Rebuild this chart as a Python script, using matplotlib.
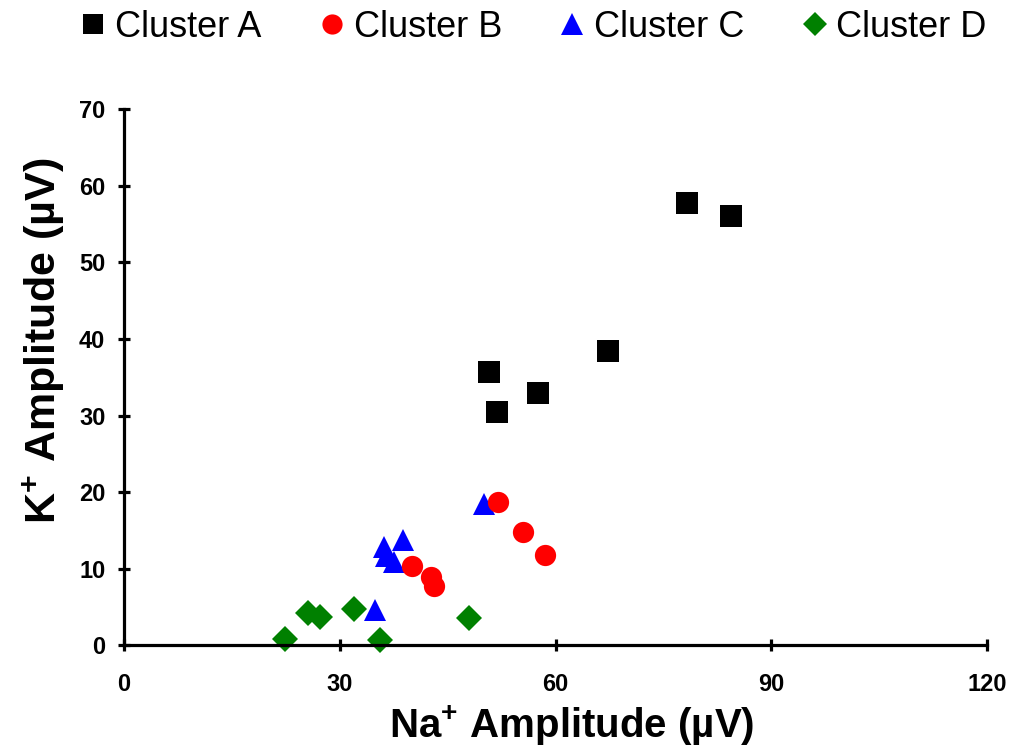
import matplotlib
matplotlib.use("Agg")
import matplotlib.pyplot as plt
from matplotlib.lines import Line2D

# Cluster membership: (Na+ amplitude, K+ amplitude) in µV
cluster_a_na = [78.3, 84.4, 67.3, 50.8, 57.5, 51.8]
cluster_a_k = [57.7, 56.1, 38.4, 35.7, 32.9, 30.5]

cluster_b_na = [52.0, 55.5, 58.5, 40.1, 42.7, 43.1]
cluster_b_k = [18.7, 14.8, 11.8, 10.4, 9.0, 7.7]

cluster_c_na = [50.0, 38.8, 36.2, 36.4, 37.5, 34.9]
cluster_c_k = [18.5, 13.8, 12.8, 11.7, 10.9, 4.6]

cluster_d_na = [22.4, 25.6, 27.2, 32.0, 35.6, 47.9]
cluster_d_k = [0.9, 4.3, 3.7, 4.7, 0.7, 3.6]

labels = ["Cluster A", "Cluster B", "Cluster C", "Cluster D"]
x_ticks = [0, 30, 60, 90, 120]
y_ticks = [0, 10, 20, 30, 40, 50, 60, 70]

plt.rcParams["font.family"] = ["Liberation Sans", "DejaVu Sans"]
plt.rcParams["mathtext.fontset"] = "custom"
plt.rcParams["mathtext.rm"] = "Liberation Sans"
plt.rcParams["mathtext.bf"] = "Liberation Sans:bold"

fig = plt.figure(figsize=(10.11, 7.53), dpi=100)
ax = fig.add_axes([0.1227, 0.1428, 0.8536, 0.7124])

styles = [
    ("s", "black", 15.3),
    ("o", "red", 15.3),
    ("^", "blue", 16.0),
    ("D", "green", 13.2),
]
series = [
    (cluster_a_na, cluster_a_k),
    (cluster_b_na, cluster_b_k),
    (cluster_c_na, cluster_c_k),
    (cluster_d_na, cluster_d_k),
]
# draw in reverse so the earlier clusters sit on top where they overlap
for (xs, ys), (m, c, ms) in reversed(list(zip(series, styles))):
    ax.plot(xs, ys, linestyle="none", marker=m, color=c, markersize=ms,
            markeredgewidth=0, clip_on=False)

ax.set_xlim(0, 120)
ax.set_ylim(0, 70)
ax.set_xticks(x_ticks)
ax.set_yticks(y_ticks)

for side in ("top", "right"):
    ax.spines[side].set_visible(False)
for side in ("left", "bottom"):
    ax.spines[side].set_linewidth(2.3)

ax.tick_params(axis="both", direction="inout", length=9, width=2.3,
               labelsize=17)
ax.tick_params(axis="x", pad=15)
ax.tick_params(axis="y", pad=9)
for lbl in ax.get_xticklabels() + ax.get_yticklabels():
    lbl.set_fontweight("bold")

ax.set_xlabel(r"Na$^{\mathbf{+}}$ Amplitude (µV)", fontsize=29,
              fontweight="bold")
ax.xaxis.set_label_coords(0.519, -0.108)
ax.set_ylabel(r"K$^{\mathbf{+}}$ Amplitude (µV)", fontsize=31,
              fontweight="bold")
ax.yaxis.set_label_coords(-0.066, 0.568)

handles = [
    Line2D([], [], linestyle="none", marker=m, color=c,
           markersize=(ms * 0.95), markeredgewidth=0)
    for (m, c, ms) in styles
]
fig.legend(handles, labels, loc="upper center", bbox_to_anchor=(0.528, 1.03),
           ncol=4, frameon=False, fontsize=26, handlelength=0.7,
           handletextpad=0.25, columnspacing=1.6)

fig.savefig("out.png", dpi=100)
